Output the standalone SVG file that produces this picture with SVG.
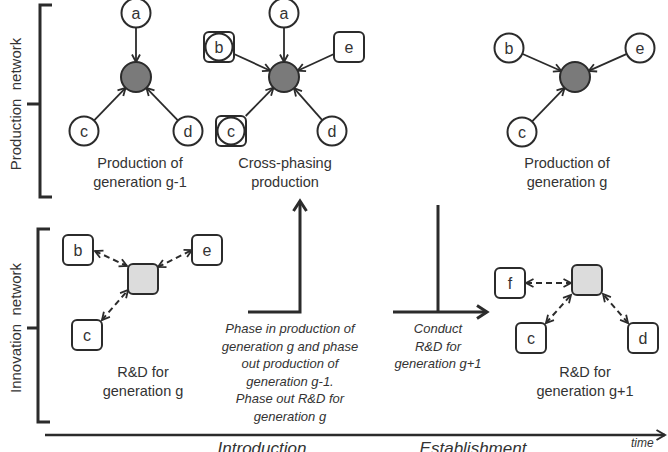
<svg xmlns="http://www.w3.org/2000/svg" width="668" height="452" viewBox="0 0 668 452">
<defs>
<style>
text{font-family:"Liberation Sans",Arial,sans-serif;fill:#333;}
.lbl{font-size:14.5px;text-anchor:middle;}
.nd{font-size:16px;text-anchor:middle;}
.nl{font-size:15px;text-anchor:middle;}
.it{font-size:13px;font-style:italic;text-anchor:middle;}
.ph{font-size:17px;font-style:italic;text-anchor:middle;}
.circ{fill:#fff;stroke:#2b2b2b;stroke-width:2;}
.box{fill:#fff;stroke:#2b2b2b;stroke-width:2;}
.hub{fill:#7a7a7a;stroke:#2b2b2b;stroke-width:2;}
.ghub{fill:#dcdcdc;stroke:#2b2b2b;stroke-width:2;}
.e{stroke:#2b2b2b;stroke-width:1.8;fill:none;marker-end:url(#ah);}
.d{stroke:#2b2b2b;stroke-width:2;fill:none;stroke-dasharray:6 4;marker-end:url(#ah);marker-start:url(#ah);}
.big{stroke:#2b2b2b;stroke-width:3;fill:none;}
.br{stroke:#2b2b2b;stroke-width:3;fill:none;}
</style>
<marker id="ah" markerUnits="userSpaceOnUse" markerWidth="12" markerHeight="12" refX="8" refY="4" orient="auto-start-reverse" overflow="visible">
<path d="M0.5,0 L8,4 L0.5,8" fill="none" stroke="#2b2b2b" stroke-width="1.8"/>
</marker>
<marker id="bah" markerUnits="userSpaceOnUse" markerWidth="16" markerHeight="16" refX="11" refY="6.5" orient="auto" overflow="visible">
<path d="M1,0 L11,6.5 L1,13" fill="none" stroke="#2b2b2b" stroke-width="3"/>
</marker>
<marker id="tah" markerUnits="userSpaceOnUse" markerWidth="14" markerHeight="14" refX="9" refY="5" orient="auto" overflow="visible">
<path d="M0.5,0 L9,5 L0.5,10" fill="none" stroke="#2b2b2b" stroke-width="2"/>
</marker>
</defs>

<g id="brackets">
<path class="br" d="M52,5 H40 V197 H52 M40,104 H27"/>
<path class="br" d="M50,229 H38 V422 H50 M38,328 H27"/>
<text class="nl" transform="translate(21,104) rotate(-90)" xml:space="preserve">Production  network</text>
<text class="nl" transform="translate(21,328) rotate(-90)" xml:space="preserve">Innovation  network</text>
</g>

<g id="connectors">
<line class="e" x1="136" y1="28" x2="136" y2="62"/>
<line class="e" x1="94.4" y1="120.2" x2="125.6" y2="87.8"/>
<line class="e" x1="177.6" y1="120.2" x2="146.4" y2="87.8"/>
<line class="e" x1="284" y1="28" x2="284" y2="62"/>
<line class="e" x1="234" y1="54" x2="270.4" y2="70.7"/>
<line class="e" x1="334" y1="54" x2="297.6" y2="70.7"/>
<line class="e" x1="245.7" y1="116" x2="273.5" y2="87.7"/>
<line class="e" x1="322" y1="119.8" x2="294" y2="88.2"/>
<line class="e" x1="522.7" y1="54" x2="561.3" y2="71"/>
<line class="e" x1="626.3" y1="54.1" x2="588.7" y2="70.9"/>
<line class="e" x1="532.4" y1="121.2" x2="564.6" y2="87.8"/>
<line class="d" x1="95" y1="251" x2="127" y2="266"/>
<line class="d" x1="158" y1="267" x2="192" y2="250"/>
<line class="d" x1="102" y1="320" x2="128" y2="290"/>
<line class="d" x1="526" y1="283" x2="571" y2="283"/>
<line class="d" x1="546" y1="323" x2="571" y2="295"/>
<line class="d" x1="628" y1="323" x2="603" y2="294"/>
<path class="big" d="M248,312 H300 V201" marker-end="url(#bah)"/>
<path class="big" d="M438,205 V312"/>
<path class="big" d="M393,312 H487" marker-end="url(#bah)"/>
<line x1="45" y1="435" x2="665" y2="435" stroke="#2b2b2b" stroke-width="2.5" marker-end="url(#tah)"/>
</g>

<g id="prod-g-1">
<g id="p1-a"><circle class="circ" cx="136" cy="13" r="14.5"/><text class="nd" x="136" y="18.5">a</text></g>
<g id="p1-hub"><circle class="hub" cx="136" cy="77" r="15"/></g>
<g id="p1-c"><circle class="circ" cx="84" cy="131" r="14.5"/><text class="nd" x="84" y="136.5">c</text></g>
<g id="p1-d"><circle class="circ" cx="188" cy="131" r="14.5"/><text class="nd" x="188" y="136.5">d</text></g>
<text class="lbl" x="140" y="168">Production of</text>
<text class="lbl" x="140" y="187">generation g-1</text>
</g>

<g id="cross-phasing">
<g id="cp-a"><circle class="circ" cx="284" cy="13" r="14.5"/><text class="nd" x="284" y="18.5">a</text></g>
<g id="cp-hub"><circle class="hub" cx="284" cy="77" r="15"/></g>
<g id="cp-b"><rect class="box" x="204" y="32" width="30" height="30" rx="5"/><circle class="circ" cx="219" cy="47" r="13.5"/><text class="nd" x="219" y="52.5">b</text></g>
<g id="cp-e"><rect class="box" x="334" y="32" width="30" height="30" rx="5"/><text class="nd" x="349" y="52.5">e</text></g>
<g id="cp-c"><rect class="box" x="216" y="116" width="30" height="30" rx="5"/><circle class="circ" cx="231" cy="131" r="13.5"/><text class="nd" x="231" y="136.5">c</text></g>
<g id="cp-d"><circle class="circ" cx="332" cy="131" r="14.5"/><text class="nd" x="332" y="136.5">d</text></g>
<text class="lbl" x="285" y="168">Cross-phasing</text>
<text class="lbl" x="285" y="187">production</text>
</g>

<g id="prod-g">
<g id="p2-hub"><circle class="hub" cx="575" cy="77" r="15"/></g>
<g id="p2-b"><circle class="circ" cx="509" cy="48" r="14.5"/><text class="nd" x="509" y="53.5">b</text></g>
<g id="p2-e"><circle class="circ" cx="640" cy="48" r="14.5"/><text class="nd" x="640" y="53.5">e</text></g>
<g id="p2-c"><circle class="circ" cx="522" cy="132" r="14.5"/><text class="nd" x="522" y="137.5">c</text></g>
<text class="lbl" x="567" y="168">Production of</text>
<text class="lbl" x="567" y="187">generation g</text>
</g>

<g id="rd-g">
<g id="r1-hub"><rect class="ghub" x="128" y="264" width="30" height="30" rx="5"/></g>
<g id="r1-b"><rect class="box" x="63" y="235" width="30" height="30" rx="5"/><text class="nd" x="78" y="255.5">b</text></g>
<g id="r1-e"><rect class="box" x="192" y="235" width="30" height="30" rx="5"/><text class="nd" x="207" y="255.5">e</text></g>
<g id="r1-c"><rect class="box" x="72" y="320" width="30" height="30" rx="5"/><text class="nd" x="87" y="340.5">c</text></g>
<text class="lbl" x="143" y="377">R&amp;D for</text>
<text class="lbl" x="143" y="396">generation g</text>
</g>

<g id="rd-g1">
<g id="r2-hub"><rect class="ghub" x="572" y="265" width="30" height="30" rx="5"/></g>
<g id="r2-f"><rect class="box" x="495" y="268" width="30" height="30" rx="5"/><text class="nd" x="510" y="288.5">f</text></g>
<g id="r2-c"><rect class="box" x="516" y="323" width="30" height="30" rx="5"/><text class="nd" x="531" y="343.5">c</text></g>
<g id="r2-d"><rect class="box" x="628" y="323" width="30" height="30" rx="5"/><text class="nd" x="643" y="343.5">d</text></g>
<text class="lbl" x="585" y="377">R&amp;D for</text>
<text class="lbl" x="585" y="396">generation g+1</text>
</g>

<g id="phase-text">
<text class="it" x="290" y="333">Phase in production of</text>
<text class="it" x="290" y="350.5">generation g and phase</text>
<text class="it" x="290" y="368">out production of</text>
<text class="it" x="290" y="385.5">generation g-1.</text>
<text class="it" x="290" y="403">Phase out R&amp;D for</text>
<text class="it" x="290" y="420.5">generation g</text>
<text class="it" x="438" y="333">Conduct</text>
<text class="it" x="438" y="350.5">R&amp;D for</text>
<text class="it" x="438" y="368">generation g+1</text>
</g>

<g id="timeline">
<text style="font-size:12px;font-style:italic;" x="631" y="447">time</text>
<text class="ph" x="262" y="454">Introduction</text>
<text class="ph" x="473" y="454">Establishment</text>
</g>
</svg>
